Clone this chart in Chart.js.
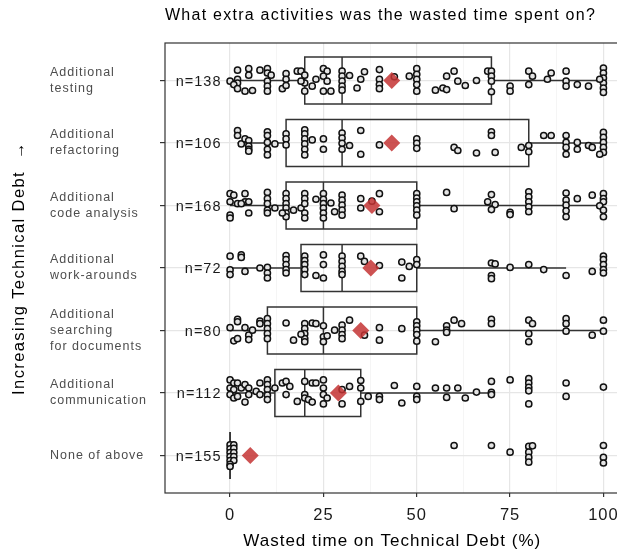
<!DOCTYPE html>
<html><head><meta charset="utf-8">
<script src="https://cdn.jsdelivr.net/npm/chart.js@4"></script>
<style>html,body{margin:0;padding:0;background:#fff;overflow:hidden}#wrap{width:617px;height:556px;overflow:hidden;position:relative}</style>
</head><body><div id="wrap"><canvas id="c" width="628" height="556"></canvas></div>
<script>
const titleText = "What extra activities was the wasted time spent on?";
const xTitle = "Wasted time on Technical Debt (%)";
const yTitle = "Increasing Technical Debt  \u2192";
const categories = [["Additional","testing"],["Additional","refactoring"],["Additional","code analysis"],["Additional","work-arounds"],["Additional","searching","for documents"],["Additional","communication"],["None of above"]];
const nCounts = [138,106,168,72,80,112,155];
const q1 = [20,15,15,19,10,12,0];
const medians = [30,30,25,30,25,20,0];
const q3 = [70,80,50,50,50,35,0];
const whiskLo = [0,2,0,0,0,0,0];
const whiskHi = [100,100,100,90,100,70,0];
const means = [43.3,43.3,38,37.7,35,29,5.4];
const xTicks = [0,25,50,75,100];

// [value, vertical jitter in category units]
const ptsTesting = [[2,-.165],[5,-.19],[5,-.085],[8,-.165],[10,-.19],[10,-.12],[11,-.085],[10,.01],[10,.09],[10,.17],[0,.01],[2,-.02],[2,.04],[1,.065],[2,.13],[4,.17],[6,.16],[15,-.11],[15,-.02],[14,.13],[15,.08],[18,-.15],[19,-.15],[20,-.085],[20,.04],[20,.17],[19,.01],[22,.09],[23,-.02],[25,-.19],[26,-.15],[25,-.07],[26,.01],[25,.17],[27,.17],[30,-.15],[30,-.07],[30,.01],[30,.09],[30,.155],[32,-.08],[35,-.02],[36,-.14],[34,.12],[40,-.175],[40,-.02],[40,.065],[40,.13],[44,-.06],[48,-.07],[50,-.19],[50,-.1],[50,-.02],[50,.065],[50,.17],[55,.155],[57,.12],[58,.145],[58,-.07],[60,-.15],[61,.01],[63,.08],[66,0],[69,-.15],[70,-.15],[70,-.07],[70,.01],[70,.18],[75,.09],[75,.17],[80,-.15],[81,-.07],[80,.065],[85,-.02],[86,-.12],[90,-.15],[90,.01],[90,.09],[93,.065],[96,.09],[100,-.2],[100,-.12],[100,-.04],[100,.04],[100,.12],[100,.19],[99,-.02]];
const ptsRefactoring = [[2,-.2],[2,-.12],[3,.015],[4,-.065],[5,-.04],[5,.05],[5,.1],[5,.13],[10,-.18],[10,-.12],[10,-.01],[10,.1],[10,.19],[12,.015],[15,-.145],[15,-.065],[15,.03],[20,-.21],[20,-.145],[20,-.065],[20,.015],[20,.1],[20,.19],[22,-.05],[25,-.065],[25,.1],[30,-.16],[30,-.08],[30,.005],[30,.1],[32,.04],[35,-.2],[35,.18],[40,.03],[50,-.065],[50,.005],[50,.085],[60,.07],[61,.12],[66,.16],[70,-.18],[70,-.12],[71,.15],[78,.07],[80,.04],[80,.14],[84,-.12],[86,-.12],[90,-.12],[90,-.01],[90,.07],[90,.18],[93,-.01],[93,.1],[96,.04],[97,.07],[100,-.17],[100,-.09],[100,-.01],[100,.07],[100,.15],[99,.18]];
const ptsCode = [[0,-.19],[1,-.165],[2,-.03],[4,-.06],[4,-.19],[5,-.06],[3,-.03],[0,-.06],[0,.155],[0,.2],[5,.12],[10,-.21],[10,-.11],[10,-.03],[10,.075],[10,.12],[12,.04],[15,-.19],[15,-.11],[15,-.03],[15,.04],[15,.12],[15,.18],[14,.12],[17,.075],[19,.04],[20,-.19],[20,-.11],[20,-.03],[20,.12],[20,.2],[23,-.1],[25,-.19],[25,-.1],[25,-.03],[25,.04],[25,.12],[25,.2],[27,-.04],[28,.1],[30,-.165],[30,-.085],[30,-.005],[30,.075],[30,.155],[35,-.11],[35,.04],[38,-.07],[40,-.19],[40,.1],[50,-.19],[50,-.12],[50,-.06],[50,.005],[50,.075],[50,.155],[58,-.21],[60,.05],[70,-.175],[69,-.06],[71,-.015],[70,.065],[75,.11],[75,.145],[80,-.22],[80,-.14],[80,-.06],[80,.02],[80,.1],[90,-.2],[90,-.085],[90,-.005],[90,.085],[90,.18],[93,-.11],[97,-.165],[100,-.19],[100,-.11],[100,-.06],[99,.005],[100,.075],[100,.18]];
const ptsWork = [[0,-.19],[3,-.21],[3,-.17],[0,.03],[0,.105],[4,.055],[8,0],[10,-.01],[10,.08],[10,.16],[15,-.2],[15,-.135],[15,-.055],[15,.025],[15,.08],[20,-.19],[20,-.12],[20,-.055],[20,.025],[20,.105],[23,.12],[25,-.21],[25,-.055],[25,.16],[30,-.19],[30,-.105],[30,-.025],[30,.055],[30,.105],[35,-.19],[36,-.105],[40,-.04],[46,-.095],[46,.16],[48,-.025],[50,-.135],[50,-.055],[70,-.08],[71,-.065],[70,.12],[70,.17],[75,-.01],[80,-.055],[84,.025],[90,.12],[97,.055],[100,-.19],[100,-.135],[100,-.055],[100,.025],[100,.08]];
const ptsSearch = [[0,-.045],[2,-.18],[2,-.14],[1,.165],[2,.13],[4,-.045],[5,.075],[5,.145],[6,-.005],[8,-.15],[8,-.11],[10,-.19],[10,-.11],[10,-.03],[10,.05],[10,.13],[15,-.12],[17,.155],[20,-.11],[20,-.03],[20,.05],[20,.13],[20,.18],[19,.06],[22,-.12],[23,-.11],[25,-.075],[25,.1],[25,.18],[26,.085],[28,-.005],[30,-.085],[30,-.005],[30,.065],[30,.13],[32,-.165],[36,.075],[40,-.045],[40,.155],[46,-.03],[50,-.14],[50,-.075],[50,-.005],[50,.065],[50,.17],[55,.18],[58,-.075],[58,-.005],[58,.03],[60,-.165],[62,-.11],[70,-.18],[70,-.11],[80,-.165],[81,-.11],[80,.05],[80,.18],[90,-.19],[90,-.11],[90,.01],[97,.075],[100,-.165],[100,.01]];
const ptsComm = [[0,-.21],[1,-.16],[0,-.08],[1,-.055],[0,.025],[1,.08],[2,-.16],[2,.055],[3,-.08],[4,-.135],[5,-.08],[5,.025],[7,-.025],[8,-.16],[8,.025],[10,-.21],[10,-.135],[10,-.055],[10,.035],[10,.105],[12,-.08],[14,-.16],[15,-.185],[16,-.105],[15,.025],[18,.135],[20,-.185],[20,.025],[20,.08],[21,.105],[22,-.16],[23,-.16],[25,-.21],[25,-.08],[25,.025],[26,.08],[30,-.055],[32,-.105],[35,-.2],[35,-.08],[35,.135],[37,.055],[40,.055],[40,.105],[4,.145],[22,.145],[25,.175],[30,.175],[44,-.12],[46,.16],[50,-.105],[50,.055],[50,.105],[55,-.08],[58,-.08],[58,.07],[61,-.08],[63,.08],[66,-.015],[70,-.185],[70,-.01],[70,.025],[75,-.21],[80,-.23],[80,-.16],[80,-.09],[80,-.035],[80,.175],[90,-.16],[90,.055],[100,-.095]];
const ptsNone = [[0,-.17],[1,-.17],[0,-.107],[1,-.115],[0,-.048],[1,-.048],[0,.016],[1,.016],[0,.08],[1,.08],[0,.14],[0,.176],[60,-.16],[70,-.16],[75,-.053],[80,-.145],[81,-.155],[80,-.053],[80,.03],[80,.107],[100,-.16],[100,.03],[100,.12]];
const pointSets = [ptsTesting, ptsRefactoring, ptsCode, ptsWork, ptsSearch, ptsComm, ptsNone];

const FONT = "'Liberation Sans', Arial, Helvetica, sans-serif";
Chart.defaults.font.family = FONT;
const LS = '1px';

const xMinor = xTicks.slice(0, -1).map((v, i) => (v + xTicks[i + 1]) / 2);
const xGrid = xTicks.concat(xMinor).sort((a, b) => a - b);
const isMajor = v => xTicks.includes(v);

const boxPlugin = {
  id: 'boxes',
  beforeLayout(chart) { chart.ctx.letterSpacing = LS; },
  beforeDraw(chart) { chart.ctx.letterSpacing = LS; },
  beforeDatasetsDraw(chart) {
    const {ctx, scales: {x, y}} = chart;
    const half = 0.375;
    ctx.save();
    ctx.strokeStyle = '#333';
    ctx.lineWidth = 1.5;
    categories.forEach((c, i) => {
      const yc = y.getPixelForValue(i), yt = y.getPixelForValue(i - half), yb = y.getPixelForValue(i + half);
      const xl = x.getPixelForValue(q1[i]), xm = x.getPixelForValue(medians[i]), xr = x.getPixelForValue(q3[i]);
      const wl = x.getPixelForValue(whiskLo[i]), wh = x.getPixelForValue(whiskHi[i]);
      ctx.beginPath();
      ctx.moveTo(wl, yc); ctx.lineTo(xl, yc);
      ctx.moveTo(xr, yc); ctx.lineTo(wh, yc);
      ctx.stroke();
      ctx.beginPath();
      ctx.rect(xl, Math.min(yt, yb), xr - xl, Math.abs(yb - yt));
      ctx.stroke();
      ctx.beginPath();
      ctx.moveTo(xm, yt); ctx.lineTo(xm, yb);
      ctx.stroke();
    });
    ctx.restore();
  },
  afterDatasetsDraw(chart) {
    const {ctx, scales: {x, y}} = chart;
    ctx.save();
    ctx.letterSpacing = '1px';
    ctx.font = "14.5px " + FONT;
    ctx.fillStyle = '#1a1a1a';
    ctx.textAlign = 'right';
    ctx.textBaseline = 'middle';
    nCounts.forEach((n, i) => {
      ctx.fillText('n=' + n, x.getPixelForValue(-2.3), y.getPixelForValue(i) + 1);
    });
    ctx.restore();
  },
  afterDraw(chart) {
    const {ctx, chartArea: a} = chart;
    ctx.save();
    ctx.strokeStyle = '#333';
    ctx.lineWidth = 1.2;
    ctx.strokeRect(a.left, a.top, a.right - a.left, a.bottom - a.top);
    ctx.fillStyle = '#000';
    ctx.letterSpacing = '1.25px';
    ctx.font = "16px " + FONT;
    ctx.textAlign = 'left';
    ctx.textBaseline = 'middle';
    ctx.fillText(titleText, a.left, 16);
    ctx.letterSpacing = '1.4px';
    ctx.font = "16.5px " + FONT;
    ctx.translate(19, (a.top + a.bottom) / 2);
    ctx.rotate(-Math.PI / 2);
    ctx.textAlign = 'center';
    ctx.fillText(yTitle, 0, 0);
    ctx.restore();
  }
};

const datasets = [{
  label: 'mean',
  data: means.map((m, i) => ({x: m, y: i})),
  pointStyle: 'rectRot',
  pointRadius: 8.5,
  backgroundColor: 'rgba(196,52,52,0.85)',
  borderWidth: 0,
  showLine: false
}];
pointSets.forEach((pts, i) => {
  datasets.push({
    label: categories[i].join(' '),
    data: pts.map(p => ({x: p[0], y: i + p[1]})),
    pointStyle: 'circle',
    pointRadius: 3.1,
    borderWidth: 1.5,
    borderColor: '#111',
    backgroundColor: '#e4e4e4',
    showLine: false
  });
});

new Chart(document.getElementById('c'), {
  type: 'scatter',
  data: {datasets},
  options: {
    responsive: false,
    animation: false,
    events: [],
    layout: {padding: {left: 50, top: 43, right: 0, bottom: 0}},
    plugins: {legend: {display: false}, tooltip: {enabled: false}, title: {display: false}},
    scales: {
      x: {
        type: 'linear', min: -17.43, max: 104.29,
        afterBuildTicks: s => { s.ticks = xGrid.map(v => ({value: v})); },
        afterFit: s => { s.height = 63; },
        ticks: {
          autoSkip: false, maxRotation: 0, padding: 9,
          font: {size: 16.5}, color: '#1a1a1a',
          callback: v => isMajor(v) ? String(v) : ''
        },
        grid: {
          color: c => isMajor(c.tick.value) ? '#e6e6e6' : '#f3f3f3',
          lineWidth: c => isMajor(c.tick.value) ? 1.2 : 0.8,
          tickColor: c => isMajor(c.tick.value) ? '#333' : 'rgba(0,0,0,0)',
          tickLength: 4
        },
        border: {display: false},
        title: {display: true, text: xTitle, font: {size: 17}, color: '#000', padding: {top: 0, bottom: 4}}
      },
      y: {
        type: 'linear', reverse: true, min: -0.6, max: 6.6,
        afterBuildTicks: s => { s.ticks = categories.map((c, i) => ({value: i})); },
        afterFit: s => { s.width = 115; },
        ticks: {
          autoSkip: false, crossAlign: 'far', padding: 6,
          font: {size: 12.5, lineHeight: 1.28}, color: '#4d4d4d',
          callback: (v, idx) => categories[idx]
        },
        grid: {color: '#e6e6e6', lineWidth: 1.2, tickColor: '#333', tickLength: 5},
        border: {display: false}
      }
    }
  },
  plugins: [boxPlugin]
});
</script>
</body></html>
